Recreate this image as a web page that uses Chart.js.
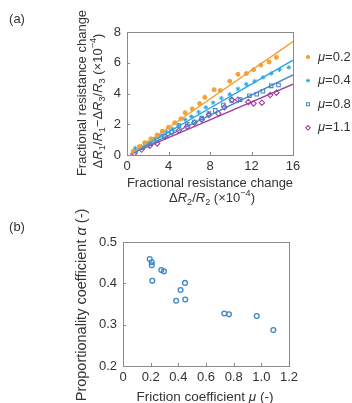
<!DOCTYPE html>
<html>
<head>
<meta charset="utf-8">
<script src="https://cdn.jsdelivr.net/npm/chart.js@4"></script>
<style>
  html, body { margin: 0; padding: 0; background: #fff; }
  body { width: 352px; height: 403px; position: relative; overflow: hidden;
         font-family: "Liberation Sans", Arial, sans-serif; color: #333; }
  canvas { position: absolute; left: 0; }
  .lbl { position: absolute; white-space: nowrap; font-size: 13px; line-height: 1; }
  .rot { transform: translate(-50%, -50%) rotate(-90deg); }
  .hz { transform: translate(-50%, -50%); }
  sub, sup { font-size: 70%; line-height: 0; }
</style>
</head>
<body>
<canvas id="chartA" width="352" height="200" style="top:0"></canvas>
<canvas id="chartB" width="352" height="203" style="top:200px"></canvas>

<div class="lbl hz" style="left:17px;top:18px">(a)</div>
<div class="lbl hz" style="left:17px;top:226px">(b)</div>

<div class="lbl rot" style="left:81px;top:93px">Fractional resistance change</div>
<div class="lbl rot" style="left:97px;top:101px">Δ<i>R</i><sub>1</sub>/<i>R</i><sub>1</sub>−Δ<i>R</i><sub>3</sub>/<i>R</i><sub>3</sub> (×10<sup>−4</sup>)</div>
<div class="lbl hz" style="left:210px;top:182px">Fractional resistance change</div>
<div class="lbl hz" style="left:212px;top:197px">Δ<i>R</i><sub>2</sub>/<i>R</i><sub>2</sub> (×10<sup>−4</sup>)</div>

<div class="lbl rot" style="left:81px;top:305px;font-size:14.5px">Proportionality coefficient <i>α</i> (-)</div>
<div class="lbl hz" style="left:205px;top:397px;font-size:13.5px">Friction coefficient <i>μ</i> (-)</div>

<script>
// (a) fractional resistance change, one series per friction coefficient
const mu02X = [0.6, 1.2, 1.7, 2.3, 2.9, 3.4, 4.0, 4.6, 5.2, 5.6, 6.3, 7.0, 7.5, 8.4, 9.0, 9.9, 10.7, 11.5, 12.2, 12.9, 13.7, 14.4];
const mu02Y = [0.25, 0.55, 0.8, 1.05, 1.3, 1.55, 1.8, 2.1, 2.35, 2.75, 3.0, 3.35, 3.75, 4.25, 4.2, 4.8, 5.25, 5.3, 5.55, 5.85, 6.05, 6.35];
const mu04X = [0.8, 1.4, 2.0, 2.6, 3.2, 3.8, 4.4, 5.0, 5.6, 6.2, 6.9, 7.6, 8.3, 9.1, 9.9, 10.7, 11.5, 12.3, 13.1, 13.9, 14.7, 15.6];
const mu04Y = [0.45, 0.55, 0.8, 1.05, 1.25, 1.5, 1.7, 1.95, 2.3, 2.5, 2.8, 3.1, 3.4, 3.7, 3.95, 4.3, 4.6, 4.8, 5.05, 5.3, 5.55, 5.7];
const mu08X = [0.8, 1.5, 2.2, 2.9, 3.6, 4.3, 5.0, 5.8, 6.5, 7.2, 7.9, 8.5, 9.3, 10.1, 10.9, 11.8, 12.5, 13.1, 13.9, 14.6];
const mu08Y = [0.25, 0.5, 0.75, 1.0, 1.25, 1.5, 1.9, 2.0, 2.15, 2.4, 2.7, 2.9, 3.25, 3.55, 3.6, 3.85, 3.95, 4.15, 4.5, 4.55];
const mu11X = [0.7, 1.4, 2.2, 2.9, 3.7, 4.3, 5.0, 5.8, 6.5, 7.2, 7.9, 8.8, 9.4, 10.1, 10.7, 11.7, 12.2, 13.0, 13.8, 14.4];
const mu11Y = [0.1, 0.35, 0.6, 0.75, 1.2, 1.5, 1.6, 1.85, 2.1, 2.3, 2.6, 2.7, 3.1, 3.6, 3.6, 3.45, 3.35, 3.4, 3.9, 4.05];

// fitted lines (end points)
const fitX = [0.3, 16];
const fit02 = [0.05, 7.37];
const fit04 = [0.05, 6.17];
const fit08 = [0.05, 5.21];
const fit11 = [0.05, 4.61];

const legendLabels = ['0.2', '0.4', '0.8', '1.1'];
const xTicksA = [0, 4, 8, 12, 16];
const yTicksA = [0, 2, 4, 6, 8];

// (b) proportionality coefficient vs friction coefficient
const frictionMu = [0.193, 0.208, 0.208, 0.277, 0.296, 0.212, 0.448, 0.416, 0.384, 0.450, 0.732, 0.766, 0.967, 1.087];
const alphaCoef = [0.459, 0.451, 0.444, 0.432, 0.429, 0.406, 0.401, 0.384, 0.358, 0.361, 0.327, 0.325, 0.321, 0.287];
const xTicksB = [0, 0.2, 0.4, 0.6, 0.8, 1, 1.2];
const yTicksB = [0.2, 0.3, 0.4, 0.5];

const colors = { orange: '#f4a034', cyan: '#2aa8e0', blue: '#4a86c8', purple: '#a043a3' };
const frameColor = '#8a8a8a';
const tickFont = { family: 'Liberation Sans', size: 13 };

const pts = (xs, ys) => xs.map((x, i) => ({ x, y: ys[i] }));

// box round the plot + short inward ticks on bottom and left
const framePlugin = {
  id: 'frame',
  afterDraw(chart) {
    const { ctx, chartArea: a, scales } = chart;
    ctx.save();
    ctx.strokeStyle = frameColor;
    ctx.lineWidth = 1;
    ctx.strokeRect(Math.round(a.left) + 0.5, Math.round(a.top) + 0.5,
      Math.round(a.right - a.left), Math.round(a.bottom - a.top));
    ctx.beginPath();
    scales.x.ticks.forEach(t => {
      const px = Math.round(scales.x.getPixelForValue(t.value)) + 0.5;
      ctx.moveTo(px, a.bottom); ctx.lineTo(px, a.bottom - 3);
    });
    scales.y.ticks.forEach(t => {
      const py = Math.round(scales.y.getPixelForValue(t.value)) + 0.5;
      ctx.moveTo(a.left, py); ctx.lineTo(a.left + 3, py);
    });
    ctx.stroke();
    ctx.restore();
  }
};

// legend on the right of chart (a), drawn with the datasets' own point styles
const legendPlugin = {
  id: 'muLegend',
  afterDraw(chart) {
    const { ctx } = chart;
    const sets = chart.data.datasets.filter(d => d.type === 'scatter');
    ctx.save();
    sets.forEach((ds, i) => {
      const y = 57 + i * 23.6;
      ctx.fillStyle = ds.backgroundColor;
      ctx.strokeStyle = ds.borderColor;
      ctx.lineWidth = ds.borderWidth;
      Chart.helpers.drawPoint(ctx, { pointStyle: ds.pointStyle, radius: ds.pointRadius * 0.85, borderWidth: ds.borderWidth, rotation: 0 }, 308, y);
      ctx.fillStyle = '#333';
      ctx.textBaseline = 'middle';
      ctx.font = 'italic 13px "Liberation Sans"';
      ctx.fillText('μ', 318, y);
      const w = ctx.measureText('μ').width;
      ctx.font = '13px "Liberation Sans"';
      ctx.fillText('=' + legendLabels[i], 318 + w, y);
    });
    ctx.restore();
  }
};

function scatterSet(label, data, color, style, radius, filled) {
  return {
    type: 'scatter', label, data,
    pointStyle: style, pointRadius: radius,
    backgroundColor: filled ? color : 'rgba(0,0,0,0)',
    borderColor: color, borderWidth: filled ? 1 : 1.1
  };
}
function fitSet(ys, color) {
  return {
    type: 'line', data: pts(fitX, ys), borderColor: color, borderWidth: 1.4,
    pointRadius: 0, fill: false, tension: 0
  };
}

function axis(min, max, ticks, size, horizontal) {
  return {
    type: 'linear', min, max,
    afterBuildTicks: s => { s.ticks = ticks.map(v => ({ value: v })); },
    afterFit: s => { if (horizontal) s.height = size; else s.width = size; },
    grid: { display: false, drawTicks: false },
    border: { display: false },
    ticks: { color: '#333', font: tickFont, padding: horizontal ? 4 : 6, maxRotation: 0, autoSkip: false }
  };
}

new Chart(document.getElementById('chartA'), {
  data: {
    datasets: [
      fitSet(fit02, colors.orange),
      fitSet(fit04, colors.cyan),
      fitSet(fit08, colors.blue),
      fitSet(fit11, colors.purple),
      scatterSet('μ=0.2', pts(mu02X, mu02Y), colors.orange, 'circle', 2, true),
      scatterSet('μ=0.4', pts(mu04X, mu04Y), colors.cyan, 'star', 2.3, true),
      scatterSet('μ=0.8', pts(mu08X, mu08Y), colors.blue, 'rect', 2.5, false),
      scatterSet('μ=1.1', pts(mu11X, mu11Y), colors.purple, 'rectRot', 2.7, false)
    ]
  },
  options: {
    responsive: false, animation: false, events: [],
    layout: { padding: { top: 32, right: 59, left: 0, bottom: 0 } },
    plugins: { legend: { display: false }, tooltip: { enabled: false } },
    scales: {
      x: axis(0, 16, xTicksA, 45, true),
      y: axis(0, 8, yTicksA, 127, false)
    }
  },
  plugins: [framePlugin, legendPlugin]
});

new Chart(document.getElementById('chartB'), {
  type: 'scatter',
  data: {
    datasets: [{
      data: pts(frictionMu, alphaCoef),
      pointStyle: 'circle', pointRadius: 2.4,
      backgroundColor: 'rgba(0,0,0,0)', borderColor: '#3d86c9', borderWidth: 1.3
    }]
  },
  options: {
    responsive: false, animation: false, events: [],
    layout: { padding: { top: 42, right: 63, left: 0, bottom: 0 } },
    plugins: { legend: { display: false }, tooltip: { enabled: false } },
    scales: {
      x: axis(0, 1.2, xTicksB, 37, true),
      y: axis(0.2, 0.5, yTicksB, 123, false)
    }
  },
  plugins: [framePlugin]
});
</script>
</body>
</html>
